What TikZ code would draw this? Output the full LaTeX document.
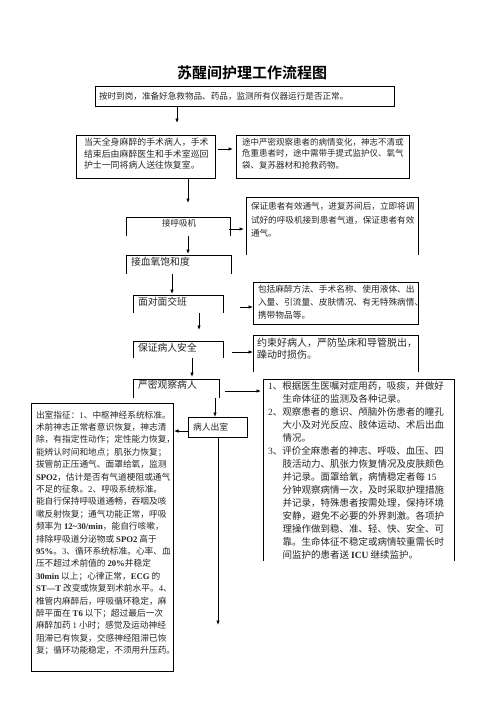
\documentclass[tikz,border=0pt]{standalone}
\usepackage{fontspec}
\setmainfont{Liberation Serif}
\newfontfamily\cjk{Noto Sans CJK SC}[BoldFont={Noto Sans CJK SC Bold}]
\usetikzlibrary{arrows.meta,calc}
\newcommand\lat[1]{{\rmfamily #1}}
\newcommand\latb[1]{{\rmfamily\bfseries #1}}
\newcommand\fs[2]{\cjk\fontsize{#1pt}{#2pt}\selectfont}
\tikzset{
  frame/.style={draw=none, inner sep=0pt, outer sep=0pt},
  boxed/.style={frame, draw, line width=0.8pt},
  openbox/.style={line width=0.8pt},
  txt/.style={inner sep=0pt, outer sep=0pt, align=left, anchor=north west, text=black!85},
  arr/.style={line width=0.8pt, -{Latex[length=4.5pt,width=3.6pt]}},
}
\begin{document}
\begin{tikzpicture}[x=1pt,y=-1pt]
\useasboundingbox (0,0) rectangle (496,702);
% title
\node[inner sep=0pt, font={\fs{15}{18}\bfseries}] (title) at (252,73) {苏醒间护理工作流程图};
% frames
\node[boxed, minimum width=299, minimum height=20] (b1) at (244.5,96) {};
\node[boxed, minimum width=139, minimum height=43] (b2L) at (145.5,156.5) {};
\node[boxed, minimum width=173, minimum height=43] (b2R) at (322.5,156.5) {};
\node[frame, minimum width=104, minimum height=19] (n3) at (178,226.5) {};
\node[frame, minimum width=172, minimum height=58] (n3R) at (332,226) {};
\node[frame, minimum width=105, minimum height=19] (n4) at (178.5,264.5) {};
\node[frame, minimum width=90, minimum height=18] (n5) at (178,304) {};
\node[boxed, minimum width=165, minimum height=42] (n5R) at (335.5,303) {};
\node[frame, minimum width=90, minimum height=17] (n6) at (178,349.5) {};
\node[frame, minimum width=165, minimum height=37] (n6R) at (335.5,353.5) {};
\node[frame, minimum width=86, minimum height=19] (n7) at (176,388.5) {};
\node[frame, minimum width=191, minimum height=182] (n7R) at (358.5,470) {};
\node[boxed, minimum width=59, minimum height=20] (n8) at (217.5,427) {};
\node[boxed, minimum width=142, minimum height=268] (n8L) at (102,537) {};
% open-bottom frames
\foreach \n in {n3,n3R,n4,n5,n6,n6R,n7,n7R}{
  \draw[openbox] (\n.south west) |- (\n.north east) -- (\n.south east);
}
% texts
\node[txt, font={\fs{8.6}{11}}] (t1) at (99,92) {按时到岗，准备好急救物品、药品，监测所有仪器运行是否正常。};
\node[txt, font={\fs{8.9}{11.5}}] (t2L) at (84,138) {当天全身麻醉的手术病人，手术\\结束后由麻醉医生和手术室巡回\\护士一同将病人送往恢复室。};
\node[txt, font={\fs{8.5}{11.5}}] (t2R) at (242,138) {途中严密观察患者的病情变化，神志不清或\\危重患者时，途中需带手提式监护仪、氧气\\袋、复苏器材和抢救药物。};
\node[inner sep=0pt, font={\fs{8.5}{10}}, text=black!85] (t3) at (179,223) {接呼吸机};
\node[txt, font={\fs{8.6}{13.3}}] (t3R) at (251,202.7) {保证患者有效通气，进复苏间后，立即将调\\试好的呼吸机接到患者气道，保证患者有效\\通气。};
\node[txt, font={\fs{9.8}{12}}] (t4) at (131,257.1) {接血氧饱和度};
\node[txt, font={\fs{9.8}{12}}] (t5) at (138,297) {面对面交班};
\node[txt, font={\fs{8.7}{13}}] (t5R) at (258,285.6) {包括麻醉方法、手术名称、使用液体、出\\入量、引流量、皮肤情况、有无特殊病情、\\携带物品等。};
\node[txt, font={\fs{9.8}{12}}] (t6) at (138,343.5) {保证病人安全};
\node[txt, font={\fs{10}{12}}] (t6R) at (257,338) {约束好病人，严防坠床和导管脱出，\\躁动时损伤。};
\node[txt, font={\fs{9.8}{12}}] (t7) at (138,380.5) {严密观察病人};
\node[txt, font={\fs{8.8}{12}}] (t8) at (193,423) {病人出室};
\node[txt, font={\fs{9.5}{13}}] (t7R) at (268,381) {%
\makebox[14.5pt][l]{\lat{1}、}根据医生医嘱对症用药，吸痰，并做好\\
\makebox[14.5pt][l]{}生命体征的监测及各种记录。\\
\makebox[14.5pt][l]{\lat{2}、}观察患者的意识、颅脑外伤患者的瞳孔\\
\makebox[14.5pt][l]{}大小及对光反应、肢体运动、术后出血\\
\makebox[14.5pt][l]{}情况。\\
\makebox[14.5pt][l]{\lat{3}、}评价全麻患者的神志、呼吸、血压、四\\
\makebox[14.5pt][l]{}肢活动力、肌张力恢复情况及皮肤颜色\\
\makebox[14.5pt][l]{}并记录。面罩给氧，病情稳定者每 \lat{15}\\
\makebox[14.5pt][l]{}分钟观察病情一次，及时采取护理措施\\
\makebox[14.5pt][l]{}并记录，特殊患者按需处理，保持环境\\
\makebox[14.5pt][l]{}安静，避免不必要的外界刺激。各项护\\
\makebox[14.5pt][l]{}理操作做到稳、准、轻、快、安全、可\\
\makebox[14.5pt][l]{}靠。生命体征不稳定或病情较重需长时\\
\makebox[14.5pt][l]{}间监护的患者送 \latb{ICU} 继续监护。};
\node[txt, font={\fs{8.7}{12.4}}] (t8L) at (36,410.6) {%
出室指征：\lat{1}、中枢神经系统标准。\\
术前神志正常者意识恢复，神志清\\
除，有指定性动作；定性能力恢复，\\
能辨认时间和地点；肌张力恢复；\\
拔管前正压通气、面罩给氧，监测\\
\latb{SPO2}，估计是否有气道梗阻或通气\\
不足的征象。\lat{2}、呼吸系统标准。\\
能自行保持呼吸道通畅，吞咽及咳\\
嗽反射恢复；通气功能正常，呼吸\\
频率为 \latb{12\textasciitilde 30/min}，能自行咳嗽，\\
排除呼吸道分泌物或 \latb{SPO2} 高于\\
\latb{95\%}。\lat{3}、循环系统标准。心率、血\\
压不超过术前值的 \latb{20\%}并稳定\\
\latb{30min} 以上；心律正常，\latb{ECG} 的\\
\latb{ST—T} 改变或恢复到术前水平。\lat{4}、\\
椎管内麻醉后，呼吸循环稳定，麻\\
醉平面在 \latb{T6} 以下；超过最后一次\\
麻醉加药 \lat{1} 小时；感觉及运动神经\\
阻滞已有恢复，交感神经阻滞已恢\\
复；循环功能稳定，不须用升压药。};
% connectors
\coordinate (c1) at ($(b1.south west)+(82,17)$);
\draw[arr] ($(b1.south west)+(82,0)$) -- (c1);
\draw[arr] ($(b2L.north east)+(3,14)$) -- ($(b2R.north west)+(-3,14)$);
\coordinate (c2) at ($(b2L.south east)+(-27,25)$);
\draw[arr] ($(b2L.south east)+(-27,0)$) -- (c2);
\draw[arr] ($(n3.north east)+(-1,12)$) -- ($(n3R.north west)+(-2,32)$);
\draw[arr] ($(n3.south west)+(62,0)$) -- ($(n4.north west)+(62,-1)$);
\draw[arr] ($(n4.south west)+(46,0)$) -- ($(n5.north west)+(39,-1)$);
\draw[arr] ($(n5.north east)+(17,12)$) -- ($(n5R.north west)+(0,25)$);
\coordinate (c3) at ($(n5.south west)+(66,17)$);
\draw[arr] ($(n5.south west)+(66,0)$) -- (c3);
\draw[arr] ($(n6.north east)+(9,11)$) -- ($(n6R.north west)+(0,17)$);
\draw[arr] ($(n6.south west)+(59,0)$) -- ($(n7.north west)+(59,-2)$);
\draw[arr] ($(n7.north east)+(6,12)$) -- ($(n7R.north west)+(-2,12)$);
\draw[arr] ($(n7.south west)+(82,0)$) -- (n8.north -| {$(n7.south west)+(82,0)$});
\draw[arr] ($(n8.south west)+(0,-6)$) -- ($(n8L.north east)+(1,28)$);
\coordinate (c4) at ($(n8.south west)+(30,188)$);
\draw[arr] ($(n8.south west)+(30,0)$) -- (c4);
\end{tikzpicture}
\end{document}
